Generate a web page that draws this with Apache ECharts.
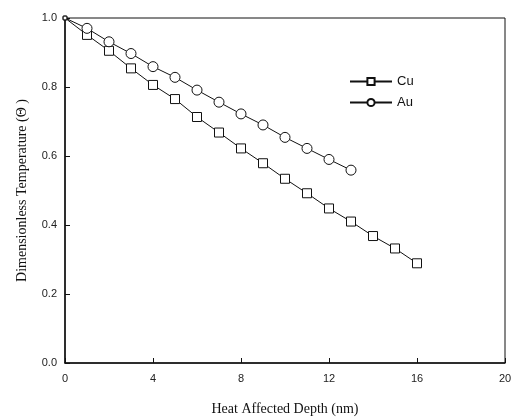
<!DOCTYPE html>
<html>
<head>
<meta charset="utf-8">
<script src="https://cdn.jsdelivr.net/npm/echarts@6/dist/echarts.min.js"></script>
<style>
	html, body { margin: 0; padding: 0; background: #fff; }
	#chart { width: 522px; height: 417px; }
</style>
</head>
<body>
<div id="chart"></div>
<script>
// depth (nm)
var cuDepth = [0, 1, 2, 3, 4, 5, 6, 7, 8, 9, 10, 11, 12, 13, 14, 15, 16];
var cuTemp = [1.0, 0.951, 0.905, 0.854, 0.806, 0.765, 0.713, 0.668, 0.622, 0.579, 0.534, 0.492, 0.448, 0.410, 0.368, 0.332, 0.289];
var auDepth = [0, 1, 2, 3, 4, 5, 6, 7, 8, 9, 10, 11, 12, 13];
var auTemp = [1.0, 0.970, 0.931, 0.897, 0.859, 0.828, 0.791, 0.756, 0.722, 0.690, 0.654, 0.622, 0.590, 0.559];
var xTicks = [0, 4, 8, 12, 16, 20];
var yTicks = [0.0, 0.2, 0.4, 0.6, 0.8, 1.0];

function pairs(xs, ys) {
	return xs.map(function(x, i) { return [x, ys[i]]; });
}

var chart = echarts.init(document.getElementById('chart'));
var axisText = { color: '#222', fontFamily: 'Arial, "Liberation Sans", sans-serif', fontSize: 11 };

chart.setOption({
	backgroundColor: '#fff',
	animation: false,
	grid: {
		left: 65, right: 17, top: 18, bottom: 54,
		outerBoundsMode: 'none',
		show: true, borderColor: '#111', borderWidth: 1
	},
	legend: {
		orient: 'vertical',
		left: 344, top: 70,
		itemWidth: 42, itemHeight: 9, itemGap: 8,
		textStyle: { color: '#111', fontFamily: 'Arial, "Liberation Sans", sans-serif', fontSize: 13 },
		data: ['Cu', 'Au']
	},
	xAxis: {
		type: 'value',
		min: xTicks[0], max: xTicks[xTicks.length - 1], interval: 4,
		name: 'Heat Affected Depth (nm)',
		nameLocation: 'middle', nameGap: 39,
		nameTextStyle: { color: '#111', fontFamily: '"Liberation Serif", "Times New Roman", serif', fontSize: 14 },
		axisLine: { lineStyle: { color: '#111', width: 1.5 } },
		axisTick: { inside: true, length: 5, lineStyle: { color: '#111' } },
		axisLabel: Object.assign({ margin: 10 }, axisText),
		splitLine: { show: false }
	},
	yAxis: {
		type: 'value',
		min: yTicks[0], max: yTicks[yTicks.length - 1], interval: 0.2,
		name: 'Dimensionless Temperature (\u0398 )',
		nameLocation: 'middle', nameGap: 36,
		nameTextStyle: { color: '#111', fontFamily: '"Liberation Serif", "Times New Roman", serif', fontSize: 14 },
		axisLine: { lineStyle: { color: '#111', width: 1.5 } },
		axisTick: { inside: true, length: 5, lineStyle: { color: '#111' } },
		axisLabel: Object.assign({ margin: 8, formatter: function(v) { return v.toFixed(1); } }, axisText),
		splitLine: { show: false }
	},
	series: [{
		name: 'Cu',
		type: 'line',
		symbol: 'rect',
		symbolSize: function(v) { return v[0] === 0 ? 4 : 9; },
		lineStyle: { color: '#111', width: 1 },
		itemStyle: { color: '#fff', borderColor: '#111', borderWidth: 1 },
		data: pairs(cuDepth, cuTemp)
	}, {
		name: 'Au',
		type: 'line',
		symbol: 'circle',
		symbolSize: function(v) { return v[0] === 0 ? 4 : 10; },
		lineStyle: { color: '#111', width: 1 },
		itemStyle: { color: '#fff', borderColor: '#111', borderWidth: 1 },
		data: pairs(auDepth, auTemp)
	}]
});
</script>
</body>
</html>
